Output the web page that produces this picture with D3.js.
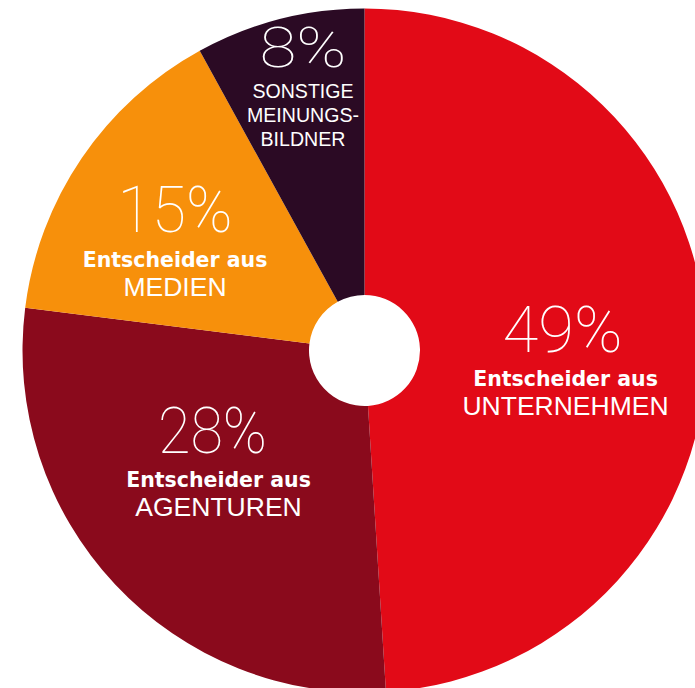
<!DOCTYPE html>
<html>
<head>
<meta charset="utf-8">
<script src="https://cdn.jsdelivr.net/npm/d3@7"></script>
<style>
  html, body { margin: 0; padding: 0; background: #fff; overflow: hidden; }
  svg { display: block; }
</style>
</head>
<body>
<script>
// ---- data ----
const categories = ["UNTERNEHMEN", "AGENTUREN", "MEDIEN", "SONSTIGE"];
const values = [49, 28, 15, 8];
const pctLabels = ["49%", "28%", "15%", "8%"];
const subLines = [
  ["Entscheider aus", "UNTERNEHMEN"],
  ["Entscheider aus", "AGENTUREN"],
  ["Entscheider aus", "MEDIEN"],
  ["SONSTIGE", "MEINUNGS-", "BILDNER"]
];
const sliceColors = ["#E20A17", "#8A0A1C", "#F7900B", "#2B0A24"];

// ---- layout ----
const W = 695, H = 688;
const cx = 364.5, cy = 350.5;
const outerR = 342, innerR = 55.5;
// label anchor offsets relative to the centre (layout, not data)
const labelLayout = [
  { dx: 201, dy: 1.5, pctDx: -3, pctSize: 64, pctW: 120, lineGaps: [34, 63], bold: [true, false], sizes: [20.5, 26.5], widths: [null, null] },
  { dx: -146, dy: 102.5, pctDx: -6, pctSize: 64, pctW: 109, lineGaps: [34, 63], bold: [true, false], sizes: [20.5, 26.5], widths: [null, null] },
  { dx: -189.5, dy: -118.5, pctDx: 0, pctSize: 64, pctW: 115, lineGaps: [35, 64], bold: [true, false], sizes: [20.5, 26.5], widths: [null, null] },
  { dx: -61.5, dy: -283.5, pctDx: 0, pctSize: 55, pctW: 87, lineGaps: [31, 55, 79], bold: [false, false, false], sizes: [20, 20, 20], widths: [101, 112, 85] }
];

const svg = d3.select("body").append("svg")
  .attr("width", W).attr("height", H);

const g = svg.append("g").attr("transform", `translate(${cx},${cy})`);

const pie = d3.pie().sort(null).value(d => d);
const arcs = pie(values);
const arc = d3.arc().innerRadius(innerR).outerRadius(outerR);

g.selectAll("path.slice")
  .data(arcs)
  .join("path")
  .attr("class", "slice")
  .attr("d", arc)
  .attr("fill", (d, i) => sliceColors[i]);

const labels = g.selectAll("g.label")
  .data(arcs)
  .join("g")
  .attr("class", "label")
  .attr("transform", (d, i) => `translate(${labelLayout[i].dx},${labelLayout[i].dy})`);

labels.append("text")
  .attr("text-anchor", "middle")
  .attr("x", (d, i) => labelLayout[i].pctDx)
  .attr("fill", "#fff")
  .attr("textLength", (d, i) => labelLayout[i].pctW)
  .attr("lengthAdjust", "spacingAndGlyphs")
  .style("font-family", "Roboto, 'Open Sans', 'Liberation Sans', sans-serif")
  .style("font-weight", 100)
  .style("font-size", (d, i) => labelLayout[i].pctSize + "px")
  .text((d, i) => pctLabels[i]);

labels.each(function(d, i) {
  const L = labelLayout[i];
  subLines[i].forEach((line, j) => {
    const t = d3.select(this).append("text")
      .attr("text-anchor", "middle")
      .attr("y", L.lineGaps[j])
      .attr("fill", "#fff")
      .style("font-family", L.bold[j] ? "'DejaVu Sans', sans-serif" : "'Liberation Sans', Arial, sans-serif")
      .style("font-weight", L.bold[j] ? 700 : 400)
      .style("font-size", L.sizes[j] + "px")
      .text(line);
    if (L.widths[j]) t.attr("textLength", L.widths[j]).attr("lengthAdjust", "spacingAndGlyphs");
  });
});
</script>
</body>
</html>
